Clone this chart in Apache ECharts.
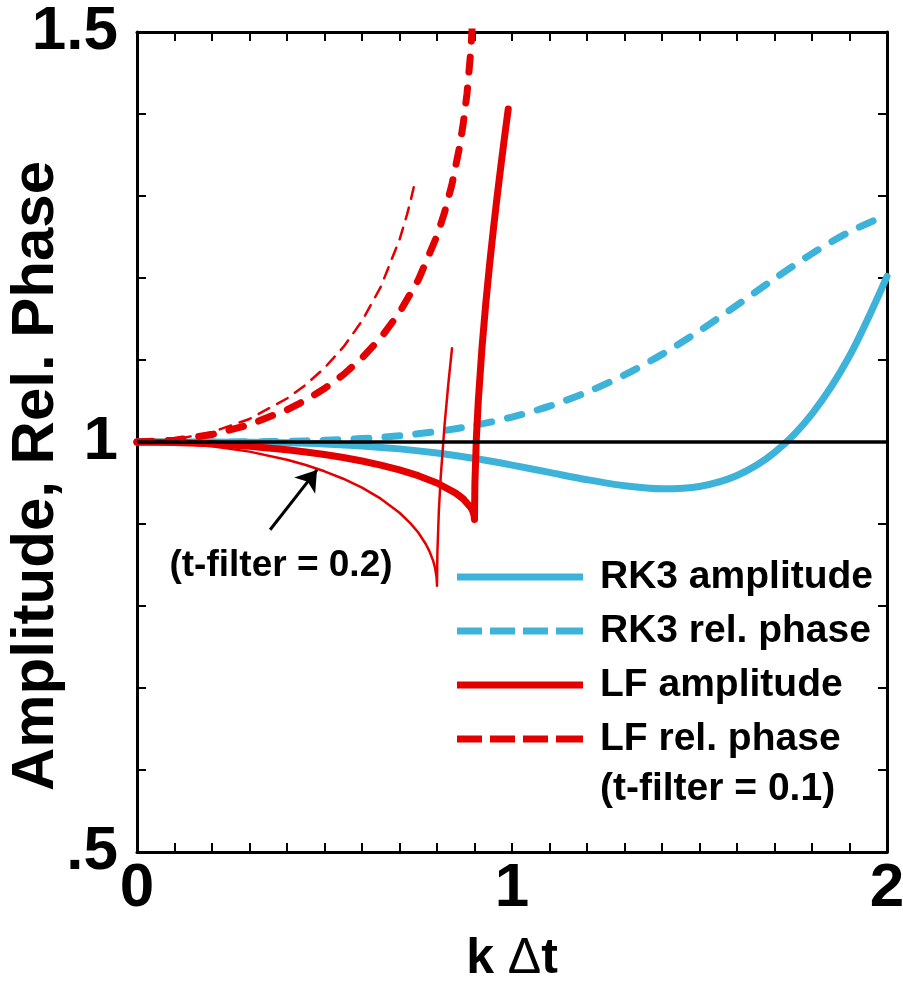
<!DOCTYPE html>
<html>
<head>
<meta charset="utf-8">
<title>Amplitude and relative phase: RK3 vs leapfrog</title>
<script src="https://cdn.jsdelivr.net/npm/echarts@6/dist/echarts.min.js"></script>
<style>
  html, body { margin: 0; padding: 0; background: #fff; }
  #chart { width: 903px; height: 983px; }
</style>
</head>
<body>
<div id="chart"></div>
<script>
// k*dt samples and values for each scheme
const kRK3 = [0, 0.1, 0.2, 0.3, 0.4, 0.5, 0.6, 0.7, 0.8, 0.9, 1.0, 1.1, 1.2, 1.3, 1.4, 1.5, 1.6, 1.7, 1.8, 1.9, 2.0];
const rk3Amplitude = [1.0, 1.0, 0.99993, 0.99967, 0.99899, 0.99761, 0.99524, 0.99160, 0.98648, 0.97984, 0.97183,
  0.96291, 0.95401, 0.94661, 0.94288, 0.94580, 0.95911, 0.98716, 1.03440, 1.10491, 1.20185];
const rk3Phase = [1.0, 1.0, 1.00005, 1.00027, 1.00084, 1.00203, 1.00416, 1.00764, 1.01281, 1.02023, 1.03038,
  1.04373, 1.06076, 1.08178, 1.10685, 1.13557, 1.16690, 1.19908, 1.22973, 1.25633, 1.27680];

// leapfrog, time filter 0.1
const kLFAmp1 = [0, 0.1, 0.2, 0.3, 0.4, 0.45, 0.5, 0.55, 0.6, 0.65, 0.7, 0.75, 0.8, 0.85, 0.87, 0.89, 0.895, 0.899,
  0.9, 0.901, 0.905, 0.91, 0.92, 0.93, 0.94, 0.95, 0.96, 0.97, 0.98, 0.99];
const lfAmp1 = [1.0, 0.99944, 0.99775, 0.99484, 0.99058, 0.98787, 0.98472, 0.98106, 0.97681, 0.97185, 0.96599,
  0.95891, 0.94998, 0.93764, 0.93064, 0.92019, 0.91594, 0.91021, 0.90554, 0.94872, 1.00499, 1.04931, 1.11528,
  1.16859, 1.21541, 1.25812, 1.29792, 1.33555, 1.37147, 1.40600];
const kLFPhase1 = [0, 0.1, 0.2, 0.3, 0.4, 0.45, 0.5, 0.55, 0.6, 0.65, 0.7, 0.75, 0.8, 0.82, 0.84, 0.86, 0.87, 0.88, 0.89, 0.895];
const lfPhase1 = [1.0, 1.00223, 1.00910, 1.02108, 1.03922, 1.05100, 1.06518, 1.08200, 1.10238, 1.12713, 1.15789,
  1.19745, 1.25151, 1.27984, 1.31451, 1.35941, 1.38829, 1.42479, 1.47631, 1.51570];

// leapfrog, time filter 0.2
const kLFAmp2 = [0, 0.1, 0.2, 0.3, 0.4, 0.45, 0.5, 0.55, 0.6, 0.65, 0.7, 0.73, 0.75, 0.77, 0.78, 0.79, 0.795, 0.799,
  0.8, 0.801, 0.805, 0.81, 0.82, 0.83, 0.84];
const lfAmp2 = [1.0, 0.99874, 0.99491, 0.98826, 0.97833, 0.97189, 0.96426, 0.95519, 0.94428, 0.93089, 0.91374,
  0.90050, 0.88958, 0.87568, 0.86666, 0.85466, 0.84600, 0.83426, 0.82462, 0.86447, 0.91667, 0.95800, 1.01980,
  1.06999, 1.11422];
const kLFPhase2 = [0, 0.1, 0.2, 0.3, 0.4, 0.45, 0.5, 0.55, 0.6, 0.65, 0.7, 0.72, 0.73, 0.74];
const lfPhase2 = [1.0, 1.00293, 1.01202, 1.02811, 1.05303, 1.06976, 1.09039, 1.11563, 1.14756, 1.18917, 1.24674,
  1.27721, 1.29489, 1.31473];

// unit reference line
const unityK = [0, 2];
const unityV = [1, 1];

// tick labels
const xTickValues = [0, 1, 2];
const xTickLabels = ['0', '1', '2'];
const yTickValues = [0.5, 1, 1.5];
const yTickLabels = ['.5', '1', '1.5'];

// arrow pointing at the t-filter = 0.2 amplitude curve (data coords)
const arrowFrom = [0.355, 0.893];
const arrowTo = [0.48, 0.966];

const legendNames = ['RK3 amplitude', 'RK3 rel. phase', 'LF amplitude', 'LF rel. phase'];

const FONT = "'Liberation Sans', Arial, Helvetica, sans-serif";
const BLUE = '#3db3da';
const RED = '#e50000';

// legend swatches: a solid bar and a four-dash bar
const ICON_SOLID = 'path://M0,0h126v7h-126z';
const ICON_DASHED = 'path://M0,0h25v7h-25z M33,0h25v7h-25z M66,0h25v7h-25z M99,0h27v7h-27z';

function pairs(xs, ys) { return xs.map((x, i) => [x, ys[i]]); }
function pick(values, labels) {
  return v => {
    const i = values.findIndex(t => Math.abs(t - v) < 1e-9);
    return i >= 0 ? labels[i] : '';
  };
}

const tickStyle = { color: '#000', width: 2 };
function xAxisBase(pos, withLabels) {
  return {
    type: 'value', position: pos, min: 0, max: 2, interval: 1,
    axisLine: { show: true, onZero: false, lineStyle: { color: '#000', width: 3 } },
    axisTick: { show: true, inside: true, length: 9, lineStyle: tickStyle },
    minorTick: { show: true, splitNumber: 10, length: 9, lineStyle: tickStyle },
    splitLine: { show: false }, minorSplitLine: { show: false },
    axisLabel: {
      show: withLabels, margin: 6, color: '#000', fontFamily: FONT, fontWeight: 'bold', fontSize: 62,
      formatter: pick(xTickValues, xTickLabels)
    }
  };
}
function yAxisBase(pos, withLabels) {
  return {
    type: 'value', position: pos, min: 0.5, max: 1.5, interval: 0.5,
    axisLine: { show: true, onZero: false, lineStyle: { color: '#000', width: 3 } },
    axisTick: { show: true, inside: true, length: 9, lineStyle: tickStyle },
    minorTick: { show: true, splitNumber: 5, length: 9, lineStyle: tickStyle },
    splitLine: { show: false }, minorSplitLine: { show: false },
    axisLabel: {
      show: withLabels, margin: 19, color: '#000', fontFamily: FONT, fontWeight: 'bold', fontSize: 62,
      formatter: pick(yTickValues, yTickLabels)
    }
  };
}

const xBottom = Object.assign(xAxisBase('bottom', true), {
  name: 'k {d|Δ}t', nameLocation: 'middle', nameGap: 82,
  nameTextStyle: {
    color: '#000', fontFamily: FONT, fontWeight: 'bold', fontSize: 50,
    rich: { d: { fontFamily: FONT, fontWeight: 'normal', fontSize: 50, color: '#000' } }
  }
});

function lineSeries(name, xs, ys, color, width, dash, extra) {
  return Object.assign({
    name, type: 'line', data: pairs(xs, ys), showSymbol: false, symbol: 'none', smooth: false,
    clip: true, silent: true,
    lineStyle: { color, width, type: dash || 'solid', cap: 'round', join: 'round' },
    itemStyle: { color }
  }, extra || {});
}

const option = {
  animation: false,
  backgroundColor: '#fff',
  grid: { left: 137, right: 16, top: 32, bottom: 131, containLabel: false, outerBoundsMode: 'none' },
  xAxis: [xBottom, xAxisBase('top', false)],
  yAxis: [yAxisBase('left', true), yAxisBase('right', false)],
  legend: {
    data: legendNames.map((n, i) => ({ name: n, icon: i % 2 === 0 ? ICON_SOLID : ICON_DASHED })),
    orient: 'vertical', left: 452, top: 552,
    itemWidth: 126, itemHeight: 14, itemGap: 14, selectedMode: false,
    textStyle: { color: '#000', fontFamily: FONT, fontWeight: 'bold', fontSize: 39, lineHeight: 40, padding: [0, 0, 0, 12] }
  },
  graphic: [
    // y-axis title, reading bottom to top
    { type: 'text', x: 36, y: 476, rotation: Math.PI / 2, silent: true,
      style: { text: 'Amplitude, Rel. Phase', fill: '#000', font: 'bold 60px ' + FONT, align: 'center', verticalAlign: 'middle' } },
    { type: 'text', x: 281, y: 566, silent: true,
      style: { text: '(t-filter = 0.2)', fill: '#000', font: 'bold 37px ' + FONT, align: 'center', verticalAlign: 'middle' } },
    { type: 'text', x: 600, y: 789, silent: true,
      style: { text: '(t-filter = 0.1)', fill: '#000', font: 'bold 39px ' + FONT, align: 'left', verticalAlign: 'middle' } }
  ],
  series: [
    lineSeries('RK3 amplitude', kRK3, rk3Amplitude, BLUE, 7, 'solid', { smooth: 0.3 }),
    lineSeries('RK3 rel. phase', kRK3, rk3Phase, BLUE, 7, [15, 16], { smooth: 0.3 }),
    lineSeries('LF amplitude', kLFAmp1, lfAmp1, RED, 7, 'solid'),
    lineSeries('LF rel. phase', kLFPhase1, lfPhase1, RED, 7, [15, 16]),
    lineSeries('LF amplitude, t-filter 0.2', kLFAmp2, lfAmp2, RED, 2.5, 'solid', {
      markLine: {
        silent: true, symbol: ['none', 'arrow'], symbolSize: 20,
        lineStyle: { color: '#000', width: 3, type: 'solid' },
        itemStyle: { color: '#000' },
        label: { show: false },
        data: [[{ coord: arrowFrom }, { coord: arrowTo }]]
      }
    }),
    lineSeries('LF rel. phase, t-filter 0.2', kLFPhase2, lfPhase2, RED, 2.5, [12, 9]),
    lineSeries('unity', unityK, unityV, '#000', 3.5, 'solid', { lineStyle: { color: '#000', width: 3.5, type: 'solid', cap: 'butt' } })
  ]
};

const chart = echarts.init(document.getElementById('chart'), null, { renderer: 'canvas' });
chart.setOption(option);
</script>
</body>
</html>
